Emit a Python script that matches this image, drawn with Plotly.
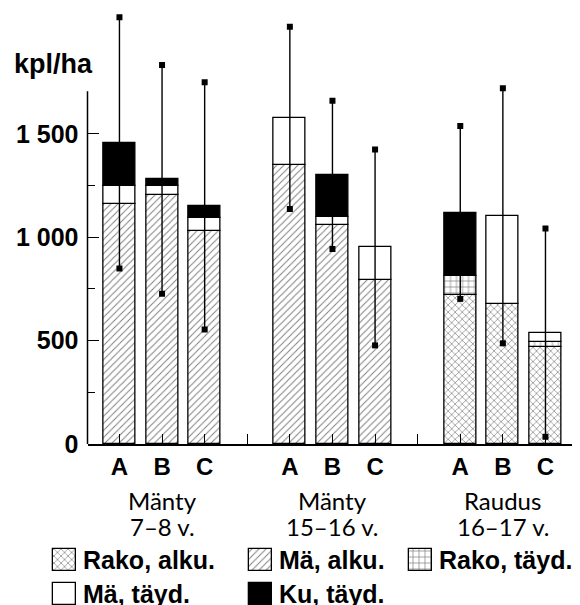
import plotly.graph_objects as go

# ---------------- data ----------------
group_names = ["Mänty", "Mänty", "Raudus"]
group_ages = ["7–8 v.", "15–16 v.", "16–17 v."]
subcats = ["A", "B", "C"]

series_names = ["Rako, alku.", "Mä, alku.", "Rako, täyd.", "Mä, täyd.", "Ku, täyd."]
rako_alku = [0, 0, 0, 0, 0, 0, 720, 678, 470]
ma_alku = [1163, 1204, 1031, 1352, 1059, 792, 0, 0, 0]
rako_tayd = [0, 0, 0, 0, 0, 0, 93, 0, 24]
ma_tayd = [87, 43, 60, 226, 40, 159, 0, 426, 45]
ku_tayd = [207, 33, 61, 0, 203, 0, 307, 0, 0]
sd = [608, 553, 598, 441, 359, 474, 418, 617, 504]

y_tickvals = [0, 500, 1000, 1500]
y_ticktext = ["0", "500", "1 000", "1 500"]
y_minor = [250, 750, 1250]
y_axis_top = 1707

# ---------------- layout constants ----------------
OFF = 8                      # page body margin
W, H = 580 - OFF, 605 - OFF  # figure size


def px(x):
    return (x - OFF) / W


def py(y):
    return 1 - (y - OFF) / H


BOLD = "Liberation Sans"
LIGHT = "Lato"

series = [rako_alku, ma_alku, rako_tayd, ma_tayd, ku_tayd]
styles = [
    dict(color="white", pattern=dict(shape="x", fgcolor="black", bgcolor="white", size=5, solidity=0.25, fillmode="overlay")),
    dict(color="white", pattern=dict(shape="/", fgcolor="black", bgcolor="white", size=5, solidity=0.2, fillmode="overlay")),
    dict(color="white", pattern=dict(shape="+", fgcolor="black", bgcolor="white", size=6, solidity=0.22, fillmode="overlay")),
    dict(color="white"),
    dict(color="black"),
]

n_sub = len(subcats)
n_grp = len(group_names)
xpos = [g * (n_sub + 1) + i for g in range(n_grp) for i in range(n_sub)]
all_ticks = list(range(0, n_grp * (n_sub + 1) - 1))
tick_text = [subcats[t % (n_sub + 1)] if t % (n_sub + 1) < n_sub else "" for t in all_ticks]

fig = go.Figure()

base = [0] * len(xpos)
for name, vals, st in zip(series_names, series, styles):
    ys = [v if v else None for v in vals]
    fig.add_trace(go.Bar(
        x=xpos, y=ys, base=base[:], width=0.75, name=name,
        marker=dict(line=dict(color="black", width=1.3), **st),
        showlegend=False,
    ))
    base = [b + v for b, v in zip(base, vals)]

totals = base
fig.add_trace(go.Scatter(
    x=xpos, y=totals, mode="markers",
    marker=dict(size=1, color="rgba(0,0,0,0)"),
    error_y=dict(type="data", array=sd, visible=True, thickness=1.4, width=0, color="black"),
    showlegend=False,
))
fig.add_trace(go.Scatter(
    x=xpos + xpos,
    y=[t + s for t, s in zip(totals, sd)] + [t - s for t, s in zip(totals, sd)],
    mode="markers", marker=dict(symbol="square", size=6, color="black"),
    showlegend=False,
))

# ---------------- manual legend (swatches on a pixel axis) ----------------
leg_cols = [(64, 81), (260, 277), (420, 437)]   # swatch centre x, text left x (reference px)
leg_rows = [560, 594]                             # row centre y (reference px)
leg_slots = [(0, 0), (0, 1), (0, 2), (1, 0), (1, 1)]
annotations = []
for k, (r, c) in enumerate(leg_slots):
    cx, tx = leg_cols[c]
    cy = leg_rows[r]
    fig.add_trace(go.Bar(
        x=[cx - OFF], y=[22], base=[cy - 11 - OFF], width=23,
        marker=dict(line=dict(color="black", width=1.3), **styles[k]),
        xaxis="x2", yaxis="y2", showlegend=False, hoverinfo="skip",
    ))
    annotations.append(dict(
        x=px(tx), y=py(cy), xref="paper", yref="paper", xanchor="left", yanchor="middle",
        text=series_names[k], showarrow=False,
        font=dict(family=BOLD, size=25, color="black", weight="bold"),
    ))

# group labels
for g in range(n_grp):
    for line_text, cy in ((group_names[g], 501), (group_ages[g], 526)):
        annotations.append(dict(
            x=g * (n_sub + 1) + (n_sub - 1) / 2, y=py(cy), xref="x", yref="paper",
            xanchor="center", yanchor="middle", text=line_text, showarrow=False,
            font=dict(family=LIGHT, size=24, color="black"),
        ))

# unit label
annotations.append(dict(
    x=px(95), y=py(64), xref="paper", yref="paper", xanchor="right", yanchor="middle",
    text="kpl/ha", showarrow=False, font=dict(family=BOLD, size=27, color="black", weight="bold"),
))

x0px, x1px = 87.5, 577
y0px = 444
ymax = (y0px - OFF) / 0.2067
xd = [px(x0px), px(x1px)]
yd = [py(y0px), 1]

fig.update_layout(
    width=W, height=H, margin=dict(l=0, r=0, t=0, b=0),
    paper_bgcolor="white", plot_bgcolor="rgba(0,0,0,0)",
    barmode="overlay", bargap=0,
    xaxis=dict(domain=xd, range=[-0.75, 10.74], tickvals=all_ticks, ticktext=tick_text,
               ticks="inside", ticklen=10, tickwidth=1, tickcolor="black",
               showline=True, linecolor="black", linewidth=1.5, showgrid=False, zeroline=False,
               tickfont=dict(family=BOLD, size=24, color="black", weight="bold"),
               automargin=False, fixedrange=True),
    yaxis=dict(domain=yd, range=[0, ymax], tickvals=y_tickvals, ticktext=y_ticktext,
               ticks="inside", ticklen=11, tickwidth=1, tickcolor="black",
               minor=dict(tickvals=y_minor, ticks="inside", ticklen=7, tickwidth=1, tickcolor="black", showgrid=False),
               showline=False, showgrid=False, zeroline=False, ticklabelstandoff=8,
               tickfont=dict(family=BOLD, size=25, color="black", weight="bold"),
               automargin=False, fixedrange=True),
    xaxis2=dict(domain=[0, 1], range=[0, W], visible=False, fixedrange=True),
    yaxis2=dict(domain=[0, 1], range=[H, 0], visible=False, fixedrange=True),
    annotations=annotations,
    shapes=[dict(type="line", xref="paper", yref="paper",
                 x0=xd[0], x1=xd[0], y0=yd[0], y1=yd[0] + (1 - yd[0]) * y_axis_top / ymax,
                 line=dict(color="black", width=1.5))],
)

fig.write_html("out.html")
